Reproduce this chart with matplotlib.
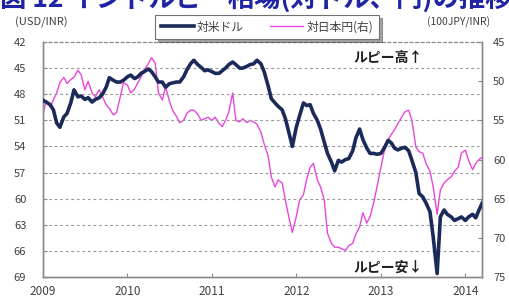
import matplotlib
matplotlib.use("Agg")
import matplotlib.pyplot as plt
import matplotlib.dates as mdates
import pandas as pd

plt.rcParams["font.family"] = ["Noto Sans CJK JP", "DejaVu Sans"]

# semi-monthly readings, 2009-01 .. 2014-03
usd_inr = [
    48.7, 48.9, 49.2, 49.8, 51.3, 51.8, 50.6, 50.2, 49.0, 47.5, 48.3, 48.2,
    48.6, 48.4, 48.9, 48.6, 48.4, 48.0, 47.2, 46.1, 46.4, 46.6, 46.6, 46.4,
    46.0, 45.8, 46.2, 46.0, 45.6, 45.4, 45.1, 45.4, 46.0, 46.6, 46.6, 47.2,
    46.8, 46.7, 46.6, 46.6, 46.0, 45.2, 44.5, 44.1, 44.6, 44.9, 45.3, 45.2,
    45.4, 45.6, 45.6, 45.3, 45.0, 44.6, 44.3, 44.6, 45.0, 45.0, 44.8, 44.6,
    44.5, 44.1, 44.5, 45.4, 47.0, 48.5, 49.0, 49.4, 49.8, 50.8, 52.5, 54.0,
    51.8, 50.5, 49.0, 49.3, 49.2, 50.2, 51.0, 52.0, 53.5, 54.8, 55.8, 56.8,
    55.6, 55.8, 55.5, 55.4, 54.5, 53.0, 52.0, 53.2, 54.2, 54.8, 54.8, 54.9,
    54.8, 54.2, 53.3, 53.6, 54.2, 54.4, 54.2, 54.1, 54.5, 55.6, 57.0, 59.4,
    59.8, 60.5, 61.5, 64.4, 68.6, 62.1, 61.3, 61.8, 62.1, 62.5, 62.3, 62.1,
    62.5, 62.1, 61.8, 62.2, 61.3, 60.5,
]
jpy_inr = [
    54.2, 52.5, 53.3, 52.4, 51.5, 50.2, 49.5, 50.3, 49.8, 49.5, 48.6, 49.2,
    51.1, 50.0, 51.5, 52.0, 51.1, 52.0, 53.0, 53.5, 54.3, 54.0, 52.0, 50.2,
    50.5, 51.5, 51.0, 50.2, 49.5, 48.5, 47.8, 47.0, 47.7, 51.5, 52.4, 50.7,
    52.5, 53.7, 54.5, 55.3, 55.0, 54.1, 53.7, 53.7, 54.2, 55.0, 54.8, 54.6,
    55.0, 54.6, 55.4, 55.8, 55.0, 54.0, 51.5, 55.0, 55.2, 54.8, 55.3, 55.0,
    55.2, 55.5, 56.5, 58.0, 59.5, 62.2, 63.5, 62.6, 63.0, 65.2, 67.5, 69.3,
    67.3, 65.2, 64.5, 62.5, 61.0, 60.5, 62.6, 63.5, 65.2, 69.4, 70.7, 71.2,
    71.2, 71.4, 71.6, 71.0, 70.7, 69.5, 68.6, 66.8, 68.1, 67.3, 65.5, 63.5,
    61.0, 59.0, 57.5, 56.8, 56.2, 55.4, 54.6, 53.9, 53.7, 55.0, 58.4, 59.0,
    59.2, 60.5, 61.5, 63.5, 67.0, 63.9, 63.0, 62.6, 62.2, 61.5, 61.0, 59.2,
    58.8, 60.1, 61.3, 60.5, 60.0, 59.7,
]
dates = pd.date_range("2009-01-01", periods=len(usd_inr), freq="SMS")

left_ticks = [42, 45, 48, 51, 54, 57, 60, 63, 66, 69]
right_ticks = [45, 50, 55, 60, 65, 70, 75]
years = [2009, 2010, 2011, 2012, 2013, 2014]

NAVY = "#1c2a5a"
PINK = "#e845dc"
GRAY = "#8a8a8a"
TXT = "#404040"

fig = plt.figure(figsize=(5.09, 3.02), dpi=100)
ax = fig.add_axes([43 / 509, 25 / 302, 439 / 509, 235 / 302])
ax2 = ax.twinx()

ax2.plot(dates, jpy_inr, color=PINK, lw=1.0, zorder=2)
ax.plot(dates, usd_inr, color=NAVY, lw=2.6, zorder=3)
ax.set_zorder(ax2.get_zorder() + 1)
ax.patch.set_visible(False)

ax.set_ylim(69, 42)
ax2.set_ylim(75, 45)
ax.set_xlim(pd.Timestamp("2009-01-01"), pd.Timestamp("2014-03-14"))

ax.set_yticks(left_ticks)
ax2.set_yticks(right_ticks)
ax.set_xticks([pd.Timestamp(f"{y}-01-01") for y in years])
ax.xaxis.set_major_formatter(mdates.DateFormatter("%Y"))

for y in left_ticks[1:-1]:
    ax.axhline(y, color="#9a9a9a", lw=0.8, ls=(0, (2.5, 2.5)), zorder=1)

for a in (ax, ax2):
    for side in ("left", "right", "bottom"):
        a.spines[side].set_color(GRAY)
        a.spines[side].set_linewidth(1.0)
    a.spines["top"].set_color(GRAY)
    a.spines["top"].set_linestyle((0, (2.5, 2.5)))
    a.spines["top"].set_linewidth(0.8)

ax.tick_params(axis="both", direction="in", length=3, color=GRAY,
               labelcolor=TXT)
ax.tick_params(axis="x", pad=6, labelsize=8.5)
ax.tick_params(axis="y", pad=12, labelsize=8)
ax2.tick_params(axis="y", direction="in", length=3, color=GRAY,
                labelsize=8, labelcolor=TXT, pad=8)

fig.text(15 / 509, 1 - 22 / 302, "(USD/INR)", fontsize=8, color=TXT,
         va="center", ha="left")
fig.text(427 / 509, 1 - 22 / 302, "(100JPY/INR)", fontsize=7.5, color=TXT,
         va="center", ha="left")

fig.text(0.0, 1 - 13 / 302, "図 12 インドルピー相場(対ドル、円)の推移",
         fontsize=19, fontweight="bold", color="#2024a4", va="bottom",
         ha="left")

ax.text(388 / 509, 1 - 58 / 302, "ルピー高↑", transform=fig.transFigure,
        fontsize=10, fontweight="bold", color="#202020", ha="center",
        va="center")
ax.text(388 / 509, 1 - 268 / 302, "ルピー安↓", transform=fig.transFigure,
        fontsize=10, fontweight="bold", color="#202020", ha="center",
        va="center")

h1, = ax.plot([], [], color=NAVY, lw=2.6)
h2, = ax.plot([], [], color=PINK, lw=1.0)
leg = fig.legend([h1, h2], ["対米ドル", "対日本円(右)"], ncol=2,
                 loc="center", bbox_to_anchor=(267 / 509, 1 - 27 / 302),
                 fontsize=8.5, frameon=True, fancybox=False, shadow=True,
                 handlelength=2.8, columnspacing=2.2, handletextpad=0.3,
                 borderpad=0.45)
leg.get_frame().set_edgecolor("#707070")
leg.get_frame().set_linewidth(0.8)
for t in leg.get_texts():
    t.set_color(TXT)

fig.savefig("out.png", dpi=100)
